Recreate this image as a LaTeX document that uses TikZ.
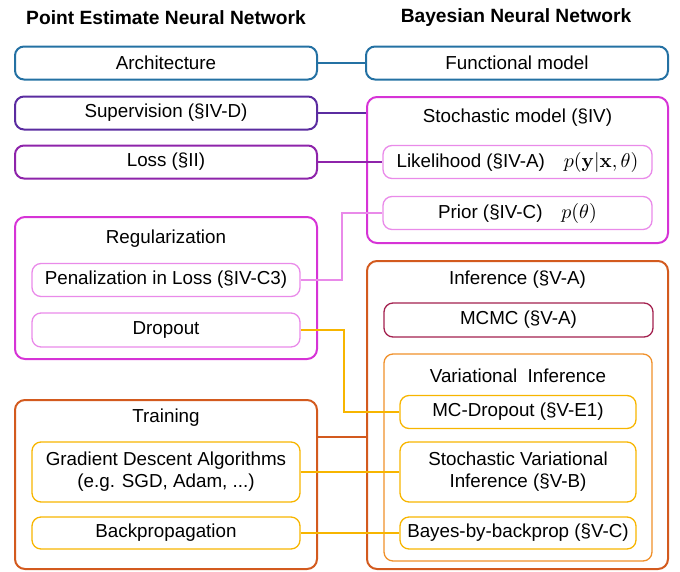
\documentclass[tikz,border=0pt]{standalone}
\usepackage{graphicx}
\usepackage[no-math]{fontspec}
\setmainfont{Liberation Sans}
\usetikzlibrary{calc}
\definecolor{archblue}{HTML}{2471A3}
\definecolor{supviolet}{HTML}{5B2CA0}
\definecolor{losspurple}{HTML}{8E24AA}
\definecolor{stochmag}{HTML}{D633D6}
\definecolor{priorpink}{HTML}{E98AE9}
\definecolor{mcmcred}{HTML}{A3214F}
\definecolor{viorange}{HTML}{F0902A}
\definecolor{trainred}{HTML}{D35A1E}
\definecolor{sgdamber}{HTML}{F7B500}
\newcommand{\bigmath}[1]{\scalebox{2}{\normalsize$#1$}}
\begin{document}
\begin{tikzpicture}[x=1pt,y=-1pt,
    txt/.style={font=\fontsize{18.8}{22}\selectfont, inner sep=0pt},
    outerbox/.style={draw, line width=2pt, rounded corners=10pt},
    innerbox/.style={draw, line width=1.3pt, rounded corners=9pt, txt, align=center},
    link/.style={line width=2pt}]
    \useasboundingbox (0,0) rectangle (680,571);
    % titles
    \node[txt, font=\fontsize{19.2}{22}\selectfont\bfseries] (ttlpe) at (166,18) {Point Estimate Neural Network};
    \node[txt, font=\fontsize{19.2}{22}\selectfont\bfseries] (ttlbnn) at (516,18) {Bayesian Neural Network};
    % point estimate side
    \node[innerbox, line width=2pt, archblue, text=black, minimum width=302, minimum height=33] (arch) at (166,63) {Architecture};
    \node[innerbox, line width=2pt, supviolet, text=black, minimum width=302, minimum height=33] (sup) at (166,113) {Supervision (§IV-D)};
    \node[innerbox, line width=2pt, losspurple, text=black, minimum width=302, minimum height=33] (loss) at (166,162) {Loss (§II)};
    \node[outerbox, stochmag, minimum width=302, minimum height=142] (reg) at (166,288) {};
    \node[txt] (regttl) at (166,239) {Regularization};
    \node[innerbox, priorpink, text=black, minimum width=268, minimum height=33] (pen) at (166,280) {Penalization in Loss (§IV-C3)};
    \node[innerbox, priorpink, text=black, minimum width=268, minimum height=34] (drop) at (166,330) {Dropout};
    \node[outerbox, trainred, minimum width=302, minimum height=169] (train) at (166,484.5) {};
    \node[txt] (trainttl) at (166,418) {Training};
    \node[innerbox, sgdamber, text=black, minimum width=268, minimum height=60] (gd) at (166,472) {Gradient Descent Algorithms\\(e.g. SGD, Adam, ...)};
    \node[innerbox, sgdamber, text=black, minimum width=268, minimum height=32] (bp) at (166,533) {Backpropagation};
    % bayesian side
    \node[innerbox, line width=2pt, archblue, text=black, minimum width=302, minimum height=33] (func) at (517,63) {Functional model};
    \node[outerbox, stochmag, minimum width=301, minimum height=146] (stoch) at (517.5,170) {};
    \node[txt] (stochttl) at (517.5,118) {Stochastic model (§IV)};
    \node[innerbox, priorpink, text=black, minimum width=269, minimum height=33] (lik) at (517.5,162) {Likelihood (§IV-A)\quad\bigmath{p(\mathbf{y}|\mathbf{x},\theta)}};
    \node[innerbox, priorpink, text=black, minimum width=269, minimum height=33] (prior) at (517.5,213) {Prior (§IV-C)\quad\bigmath{p(\theta)}};
    \node[outerbox, trainred, minimum width=301, minimum height=308] (inf) at (517.5,415) {};
    \node[txt] (infttl) at (517.5,280) {Inference (§V-A)};
    \node[innerbox, mcmcred, text=black, minimum width=269, minimum height=34] (mcmc) at (518.5,320) {MCMC (§V-A)};
    \node[innerbox, viorange, minimum width=268, minimum height=207] (vi) at (518,457.5) {};
    \node[txt] (vittl) at (518,376) {Variational~~Inference};
    \node[innerbox, sgdamber, text=black, minimum width=236, minimum height=33] (mcd) at (518,412) {MC-Dropout (§V-E1)};
    \node[innerbox, sgdamber, text=black, minimum width=236, minimum height=60] (svi) at (518,472) {Stochastic Variational\\Inference (§V-B)};
    \node[innerbox, sgdamber, text=black, minimum width=236, minimum height=32] (bbb) at (518,533) {Bayes-by-backprop (§V-C)};
    % links
    \draw[link, archblue] (arch.east) -- (func.west);
    \draw[link, supviolet] (sup.east) -- (sup.east -| stoch.west);
    \draw[link, losspurple] (loss.east) -- (lik.west);
    \draw[link, priorpink] (prior.west) -- ++(-40,0) |- (pen.east);
    \draw[link, sgdamber] (drop.east) -- ++(43,0) |- (mcd.west);
    \draw[link, trainred] ([yshift=47.5pt]train.east) -- ([yshift=47.5pt]train.east -| inf.west);
    \draw[link, sgdamber] (gd.east) -- (svi.west);
    \draw[link, sgdamber] (bp.east) -- (bbb.west);
\end{tikzpicture}
\end{document}
